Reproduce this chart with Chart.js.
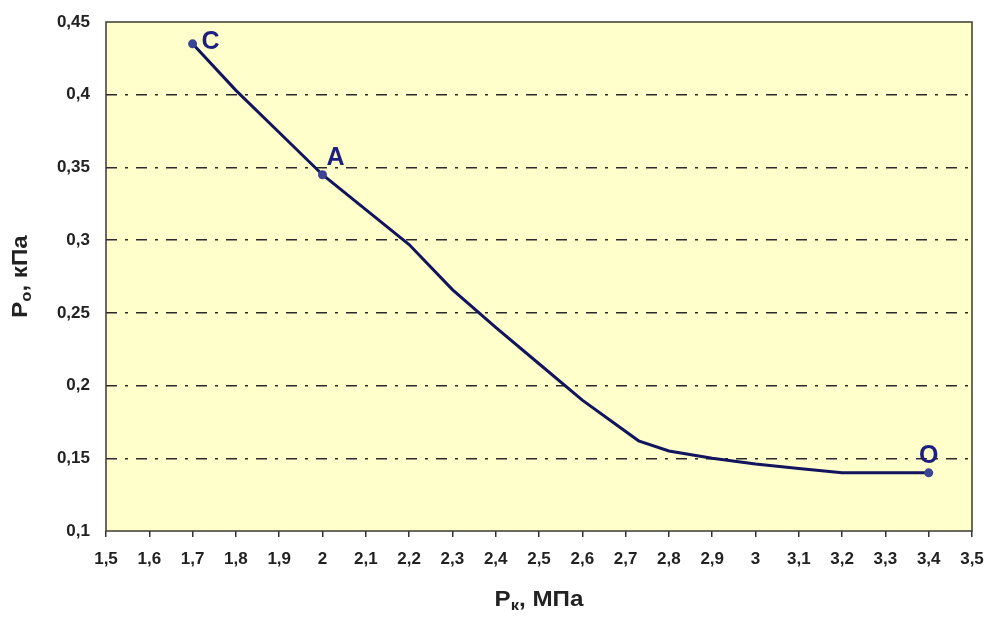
<!DOCTYPE html>
<html>
<head>
<meta charset="utf-8">
<script src="https://cdn.jsdelivr.net/npm/chart.js@4.4.0/dist/chart.umd.min.js"></script>
<style>
html, body { margin: 0; padding: 0; background: #fff; }
#wrap { width: 987px; height: 619px; }
</style>
</head>
<body>
<div id="wrap"><canvas id="chart" width="987" height="619"></canvas></div>
<script>
// Pk, MPa
const pkValues = [1.7, 1.8, 1.9, 2.0, 2.1, 2.2, 2.3, 2.4, 2.5, 2.6, 2.73, 2.8, 2.9, 3.0, 3.1, 3.2, 3.3, 3.4];
// Po, kPa
const poValues = [0.435, 0.403, 0.374, 0.345, 0.321, 0.297, 0.266, 0.240, 0.215, 0.190, 0.162, 0.155, 0.150, 0.146, 0.143, 0.140, 0.140, 0.140];
// named points on the curve
const markedIndex = [0, 3, 17];
const markedNames = ['C', 'A', 'O'];
// axis titles (main letter, subscript, rest)
const xTitle = ['P', 'к', ', МПа'];
const yTitle = ['P', 'о', ', кПа'];

const FONT = '"Liberation Sans", Arial, sans-serif';

// label offsets from the point, per named point
const nameOffsets = [
    { dx: 9, dy: 5, align: 'left' },
    { dx: 4, dy: -10, align: 'left' },
    { dx: 0, dy: -10, align: 'center' }
];

function fmt(v, digits) {
    const r = Math.round(v * Math.pow(10, digits)) / Math.pow(10, digits);
    return String(r).replace('.', ',');
}

// draw "P", subscript, rest centered at (0,0) of current transform
function drawSubText(ctx, parts) {
    const big = 'bold 22px ' + FONT;
    const small = 'bold 15px ' + FONT;
    ctx.font = big;
    const w0 = ctx.measureText(parts[0]).width;
    const w2 = ctx.measureText(parts[2]).width;
    ctx.font = small;
    const w1 = ctx.measureText(parts[1]).width;
    let x = -(w0 + w1 + w2) / 2;
    ctx.textAlign = 'left';
    ctx.textBaseline = 'alphabetic';
    ctx.font = big;
    ctx.fillText(parts[0], x, 0);
    x += w0;
    ctx.font = small;
    ctx.fillText(parts[1], x, 4);
    x += w1;
    ctx.font = big;
    ctx.fillText(parts[2], x, 0);
}

const plotFrame = {
    id: 'plotFrame',
    beforeDraw(chart) {
        const { ctx, chartArea: a } = chart;
        ctx.save();
        ctx.fillStyle = '#FFFFCC';
        ctx.fillRect(a.left, a.top, a.right - a.left, a.bottom - a.top);
        ctx.restore();
    },
    afterDraw(chart) {
        const { ctx, chartArea: a } = chart;
        ctx.save();
        ctx.strokeStyle = '#3a3a30';
        ctx.lineWidth = 1.5;
        ctx.strokeRect(a.left, a.top, a.right - a.left, a.bottom - a.top);

        // axis titles
        ctx.fillStyle = '#222';
        ctx.save();
        ctx.translate((a.left + a.right) / 2, 606);
        ctx.scale(1.1, 1);
        drawSubText(ctx, xTitle);
        ctx.restore();
        ctx.save();
        ctx.translate(27, (a.top + a.bottom) / 2);
        ctx.rotate(-Math.PI / 2);
        ctx.scale(1.1, 1);
        drawSubText(ctx, yTitle);
        ctx.restore();
        ctx.restore();
    }
};

const pointNames = {
    id: 'pointNames',
    afterDatasetsDraw(chart) {
        const meta = chart.getDatasetMeta(0);
        const ctx = chart.ctx;
        ctx.save();
        ctx.font = 'bold 25px ' + FONT;
        ctx.fillStyle = '#1c1f80';
        ctx.textBaseline = 'alphabetic';
        markedIndex.forEach((idx, i) => {
            const pt = meta.data[idx];
            const off = nameOffsets[i];
            ctx.textAlign = off.align;
            ctx.fillText(markedNames[i], pt.x + off.dx, pt.y + off.dy);
        });
        ctx.restore();
    }
};

const radii = pkValues.map((_, i) => markedIndex.includes(i) ? 4.5 : 0);

new Chart(document.getElementById('chart'), {
    type: 'line',
    data: {
        datasets: [{
            data: pkValues.map((x, i) => ({ x: x, y: poValues[i] })),
            borderColor: '#12145e',
            borderWidth: 3,
            tension: 0,
            pointRadius: radii,
            pointHoverRadius: radii,
            pointBackgroundColor: '#3b4495',
            pointBorderColor: '#3b4495',
            pointBorderWidth: 0
        }]
    },
    options: {
        responsive: false,
        animation: false,
        devicePixelRatio: 1,
        layout: { padding: { top: 22, right: 15, left: 0, bottom: 0 } },
        plugins: {
            legend: { display: false },
            tooltip: { enabled: false }
        },
        scales: {
            x: {
                type: 'linear',
                min: 1.5,
                max: 3.5,
                afterFit: (scale) => {
                    scale.height = 88;
                    scale.paddingLeft = 0;
                    scale.paddingRight = 0;
                },
                ticks: {
                    stepSize: 0.1,
                    padding: 12,
                    color: '#222',
                    font: { family: FONT, size: 17, weight: 'bold' },
                    maxRotation: 0,
                    autoSkip: false,
                    callback: (v) => fmt(v, 1)
                },
                grid: {
                    drawOnChartArea: false,
                    drawTicks: true,
                    tickLength: 6,
                    color: '#333',
                    lineWidth: 1.5
                },
                border: { display: false }
            },
            y: {
                min: 0.1,
                max: 0.45,
                afterFit: (scale) => {
                    scale.width = 106;
                    scale.paddingTop = 0;
                    scale.paddingBottom = 0;
                },
                ticks: {
                    stepSize: 0.05,
                    padding: 16,
                    color: '#222',
                    font: { family: FONT, size: 17, weight: 'bold' },
                    callback: (v) => fmt(v, 2)
                },
                grid: {
                    drawTicks: false,
                    lineWidth: 1.5,
                    color: (c) => {
                        const v = c.tick ? c.tick.value : 0;
                        return (v <= 0.1001 || v >= 0.4499) ? 'rgba(0,0,0,0)' : '#2a2a2a';
                    }
                },
                border: { display: false, dash: [11, 8, 3, 8] }
            }
        }
    },
    plugins: [plotFrame, pointNames]
});
</script>
</body>
</html>
